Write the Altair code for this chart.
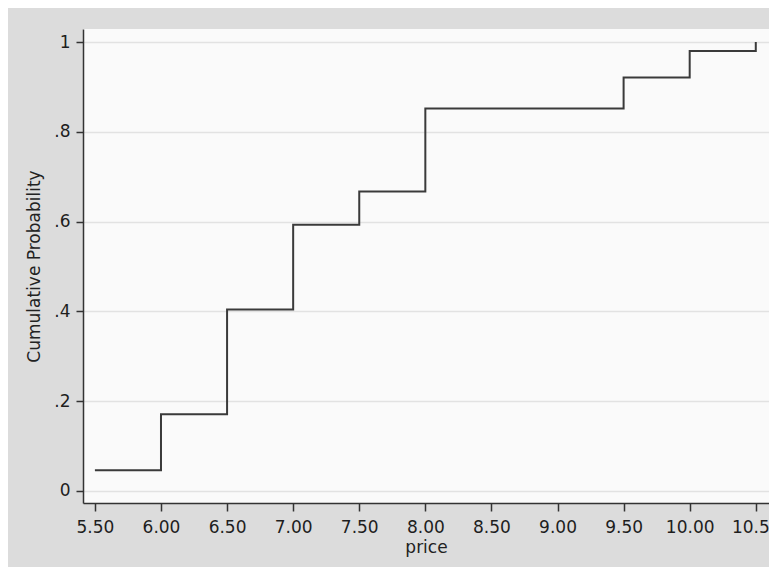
import altair as alt
import pandas as pd

price = [5.5, 6.0, 6.5, 7.0, 7.5, 8.0, 9.5, 10.0, 10.5]
cum_prob = [0.046, 0.171, 0.404, 0.593, 0.667, 0.852, 0.921, 0.980, 1.0]
x_ticks = [5.5, 6.0, 6.5, 7.0, 7.5, 8.0, 8.5, 9.0, 9.5, 10.0, 10.5]
y_ticks = [0, 0.2, 0.4, 0.6, 0.8, 1.0]

df = pd.DataFrame({"price": price, "cp": cum_prob})

FONT = "DejaVu Sans"

chart = (
    alt.Chart(df)
    .mark_line(interpolate="step-after", color="#3a3a3a", strokeWidth=2)
    .encode(
        x=alt.X(
            "price:Q",
            title="price",
            scale=alt.Scale(domain=[5.41, 10.6], nice=False, zero=False),
            axis=alt.Axis(
                values=x_ticks,
                format=".2f",
                grid=False,
                tickSize=8,
                labelPadding=8,
                titlePadding=4,
            ),
        ),
        y=alt.Y(
            "cp:Q",
            title="Cumulative Probability",
            scale=alt.Scale(domain=[-0.027, 1.029], nice=False, zero=False),
            axis=alt.Axis(
                values=y_ticks,
                labelExpr="replace(format(datum.value, '.1~f'), /^0\\./, '.')",
                grid=True,
                tickSize=7,
                labelPadding=6,
                titlePadding=10,
            ),
        ),
    )
    .properties(
        width=686,
        height=474,
        autosize=alt.AutoSizeParams(type="none"),
        padding={"left": 75, "top": 21, "right": 0, "bottom": 64},
        background="#dcdcdc",
    )
    .configure_view(fill="#fafafa", strokeWidth=0)
    .configure_axis(
        labelFont=FONT,
        titleFont=FONT,
        labelFontSize=17,
        titleFontSize=17,
        titleFontWeight="normal",
        labelColor="#1e1e1e",
        titleColor="#222222",
        domainColor="#333333",
        domainWidth=1.5,
        tickColor="#333333",
        tickWidth=1.5,
        gridColor="#e2e2e2",
        gridWidth=1.5,
    )
)

chart.save("out.html", embed_options={"renderer": "svg", "actions": False})
